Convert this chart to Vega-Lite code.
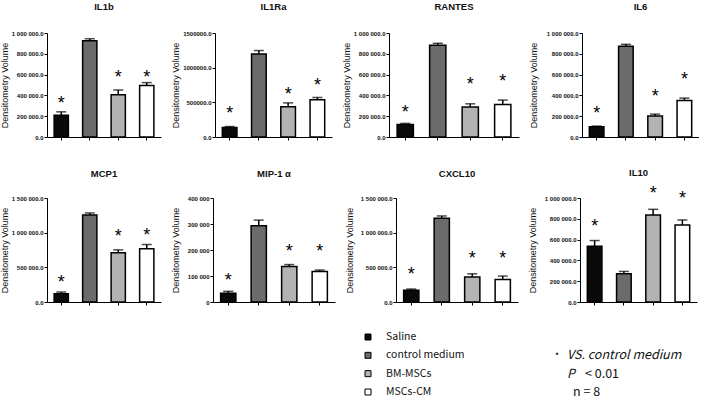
{
  "$schema": "https://vega.github.io/schema/vega-lite/v6.json",
  "padding": {"left": 0, "top": 1, "right": 0, "bottom": 0},
  "background": "white",
  "spacing": 26,
  "datasets": {
    "bars": [
      {"panel": "IL1b", "group": "Saline", "value": 210000, "err": 242000, "star": 365000},
      {"panel": "IL1b", "group": "control medium", "value": 926000, "err": 945000, "star": null},
      {"panel": "IL1b", "group": "BM-MSCs", "value": 406000, "err": 452000, "star": 620000},
      {"panel": "IL1b", "group": "MSCs-CM", "value": 494000, "err": 523000, "star": 620000},
      {"panel": "IL1Ra", "group": "Saline", "value": 136000, "err": 151000, "star": 404000},
      {"panel": "IL1Ra", "group": "control medium", "value": 1198000, "err": 1247000, "star": null},
      {"panel": "IL1Ra", "group": "BM-MSCs", "value": 438000, "err": 492000, "star": 672000},
      {"panel": "IL1Ra", "group": "MSCs-CM", "value": 536000, "err": 570000, "star": 804000},
      {"panel": "RANTES", "group": "Saline", "value": 121000, "err": 131000, "star": 281000},
      {"panel": "RANTES", "group": "control medium", "value": 882000, "err": 901000, "star": null},
      {"panel": "RANTES", "group": "BM-MSCs", "value": 288000, "err": 319000, "star": 546000},
      {"panel": "RANTES", "group": "MSCs-CM", "value": 313000, "err": 355000, "star": 575000},
      {"panel": "IL6", "group": "Saline", "value": 99000, "err": 105000, "star": 265000},
      {"panel": "IL6", "group": "control medium", "value": 872000, "err": 891000, "star": null},
      {"panel": "IL6", "group": "BM-MSCs", "value": 201000, "err": 220000, "star": 434000},
      {"panel": "IL6", "group": "MSCs-CM", "value": 351000, "err": 374000, "star": 594000},
      {"panel": "MCP1", "group": "Saline", "value": 120000, "err": 144000, "star": 350000},
      {"panel": "MCP1", "group": "control medium", "value": 1256000, "err": 1284000, "star": null},
      {"panel": "MCP1", "group": "BM-MSCs", "value": 709000, "err": 752000, "star": 1016000},
      {"panel": "MCP1", "group": "MSCs-CM", "value": 767000, "err": 829000, "star": 1020000},
      {"panel": "MIP-1 α", "group": "Saline", "value": 34000, "err": 41000, "star": 100000},
      {"panel": "MIP-1 α", "group": "control medium", "value": 293000, "err": 315000, "star": null},
      {"panel": "MIP-1 α", "group": "BM-MSCs", "value": 137000, "err": 144000, "star": 210000},
      {"panel": "MIP-1 α", "group": "MSCs-CM", "value": 117000, "err": 123000, "star": 210000},
      {"panel": "CXCL10", "group": "Saline", "value": 168000, "err": 187000, "star": 455000},
      {"panel": "CXCL10", "group": "control medium", "value": 1208000, "err": 1241000, "star": null},
      {"panel": "CXCL10", "group": "BM-MSCs", "value": 359000, "err": 407000, "star": 695000},
      {"panel": "CXCL10", "group": "MSCs-CM", "value": 326000, "err": 374000, "star": 695000},
      {"panel": "IL10", "group": "Saline", "value": 537000, "err": 591000, "star": 767000},
      {"panel": "IL10", "group": "control medium", "value": 272000, "err": 294000, "star": null},
      {"panel": "IL10", "group": "BM-MSCs", "value": 837000, "err": 891000, "star": 1086000},
      {"panel": "IL10", "group": "MSCs-CM", "value": 741000, "err": 789000, "star": 1038000}
    ],
    "legend": [
      {"kind": "legend", "col": "legend", "line": 1, "label": "Saline", "group": "Saline"},
      {"kind": "legend", "col": "legend", "line": 2, "label": "control medium", "group": "control medium"},
      {"kind": "legend", "col": "legend", "line": 3, "label": "BM-MSCs", "group": "BM-MSCs"},
      {"kind": "legend", "col": "legend", "line": 4, "label": "MSCs-CM", "group": "MSCs-CM"},
      {"kind": "bullet", "col": "note", "line": 2, "label": "•"},
      {"kind": "italic", "col": "note", "line": 2, "label": "VS. control medium"},
      {"kind": "italic", "col": "note", "line": 3, "label": "P"},
      {"kind": "pval", "col": "note", "line": 3, "label": "< 0.01"},
      {"kind": "plain", "col": "note", "line": 4, "label": "n = 8"}
    ]
  },
  "vconcat": [
    {
      "spacing": 26,
      "vconcat": [
        {
          "spacing": 10,
          "hconcat": [
            {
              "title": {"text": "IL1b", "offset": 19}, "width": 114, "height": 104,
              "data": {"name": "bars"},
              "transform": [{"filter": {"field": "panel", "equal": "IL1b"}}],
              "encoding": {"x": {"field": "group", "type": "nominal", "sort": ["Saline", "control medium", "BM-MSCs", "MSCs-CM"], "scale": {"paddingInner": 0.5, "paddingOuter": 0.25}, "axis": {"title": null, "labels": false, "tickSize": 3, "minExtent": 0, "maxExtent": 3}}},
              "layer": [
                {"mark": {"type": "bar", "stroke": "black", "strokeWidth": 1.5},
                 "encoding": {"y": {"field": "value", "type": "quantitative", "title": "Densitometry Volume", "scale": {"domain": [0, 1000000], "nice": false}, "axis": {"values": [0, 200000, 400000, 600000, 800000, 1000000], "tickCount": 20, "format": ",.1f", "labelOverlap": false, "minExtent": 36, "maxExtent": 36}},
                              "color": {"field": "group", "type": "nominal", "scale": {"domain": ["Saline", "control medium", "BM-MSCs", "MSCs-CM"], "range": ["#0a0a0a", "#6b6b6b", "#b3b3b3", "#ffffff"]}, "legend": null}}},
                {"mark": {"type": "rule", "strokeWidth": 1.5, "color": "black"}, "encoding": {"y": {"field": "value", "type": "quantitative", "title": "Densitometry Volume"}, "y2": {"field": "err"}}},
                {"mark": {"type": "tick", "thickness": 1.5, "size": 10, "color": "black"}, "encoding": {"y": {"field": "err", "type": "quantitative", "title": "Densitometry Volume"}}},
                {"transform": [{"filter": "datum.star != null"}], "mark": {"type": "text", "text": "*", "font": "Liberation Sans", "fontSize": 18, "baseline": "alphabetic", "dy": 10, "color": "black"}, "encoding": {"y": {"field": "star", "type": "quantitative", "title": "Densitometry Volume"}}}
              ]
            },
            {
              "title": {"text": "IL1Ra", "offset": 19}, "width": 117, "height": 104,
              "data": {"name": "bars"},
              "transform": [{"filter": {"field": "panel", "equal": "IL1Ra"}}],
              "encoding": {"x": {"field": "group", "type": "nominal", "sort": ["Saline", "control medium", "BM-MSCs", "MSCs-CM"], "scale": {"paddingInner": 0.5, "paddingOuter": 0.25}, "axis": {"title": null, "labels": false, "tickSize": 3, "minExtent": 0, "maxExtent": 3}}},
              "layer": [
                {"mark": {"type": "bar", "stroke": "black", "strokeWidth": 1.5},
                 "encoding": {"y": {"field": "value", "type": "quantitative", "title": "Densitometry Volume", "scale": {"domain": [0, 1500000], "nice": false}, "axis": {"values": [0, 500000, 1000000, 1500000], "tickCount": 20, "format": ".1f", "labelOverlap": false, "minExtent": 33, "maxExtent": 33}},
                              "color": {"field": "group", "type": "nominal", "scale": {"domain": ["Saline", "control medium", "BM-MSCs", "MSCs-CM"], "range": ["#0a0a0a", "#6b6b6b", "#b3b3b3", "#ffffff"]}, "legend": null}}},
                {"mark": {"type": "rule", "strokeWidth": 1.5, "color": "black"}, "encoding": {"y": {"field": "value", "type": "quantitative", "title": "Densitometry Volume"}, "y2": {"field": "err"}}},
                {"mark": {"type": "tick", "thickness": 1.5, "size": 10, "color": "black"}, "encoding": {"y": {"field": "err", "type": "quantitative", "title": "Densitometry Volume"}}},
                {"transform": [{"filter": "datum.star != null"}], "mark": {"type": "text", "text": "*", "font": "Liberation Sans", "fontSize": 18, "baseline": "alphabetic", "dy": 10, "color": "black"}, "encoding": {"y": {"field": "star", "type": "quantitative", "title": "Densitometry Volume"}}}
              ]
            },
            {
              "title": {"text": "RANTES", "offset": 19}, "width": 130, "height": 104,
              "data": {"name": "bars"},
              "transform": [{"filter": {"field": "panel", "equal": "RANTES"}}],
              "encoding": {"x": {"field": "group", "type": "nominal", "sort": ["Saline", "control medium", "BM-MSCs", "MSCs-CM"], "scale": {"paddingInner": 0.5, "paddingOuter": 0.25}, "axis": {"title": null, "labels": false, "tickSize": 3, "minExtent": 0, "maxExtent": 3}}},
              "layer": [
                {"mark": {"type": "bar", "stroke": "black", "strokeWidth": 1.5},
                 "encoding": {"y": {"field": "value", "type": "quantitative", "title": "Densitometry Volume", "scale": {"domain": [0, 1000000], "nice": false}, "axis": {"values": [0, 200000, 400000, 600000, 800000, 1000000], "tickCount": 20, "format": ",.1f", "labelOverlap": false, "minExtent": 36, "maxExtent": 36}},
                              "color": {"field": "group", "type": "nominal", "scale": {"domain": ["Saline", "control medium", "BM-MSCs", "MSCs-CM"], "range": ["#0a0a0a", "#6b6b6b", "#b3b3b3", "#ffffff"]}, "legend": null}}},
                {"mark": {"type": "rule", "strokeWidth": 1.5, "color": "black"}, "encoding": {"y": {"field": "value", "type": "quantitative", "title": "Densitometry Volume"}, "y2": {"field": "err"}}},
                {"mark": {"type": "tick", "thickness": 1.5, "size": 10, "color": "black"}, "encoding": {"y": {"field": "err", "type": "quantitative", "title": "Densitometry Volume"}}},
                {"transform": [{"filter": "datum.star != null"}], "mark": {"type": "text", "text": "*", "font": "Liberation Sans", "fontSize": 18, "baseline": "alphabetic", "dy": 10, "color": "black"}, "encoding": {"y": {"field": "star", "type": "quantitative", "title": "Densitometry Volume"}}}
              ]
            },
            {
              "title": {"text": "IL6", "offset": 19}, "width": 117, "height": 104,
              "data": {"name": "bars"},
              "transform": [{"filter": {"field": "panel", "equal": "IL6"}}],
              "encoding": {"x": {"field": "group", "type": "nominal", "sort": ["Saline", "control medium", "BM-MSCs", "MSCs-CM"], "scale": {"paddingInner": 0.5, "paddingOuter": 0.25}, "axis": {"title": null, "labels": false, "tickSize": 3, "minExtent": 0, "maxExtent": 3}}},
              "layer": [
                {"mark": {"type": "bar", "stroke": "black", "strokeWidth": 1.5},
                 "encoding": {"y": {"field": "value", "type": "quantitative", "title": "Densitometry Volume", "scale": {"domain": [0, 1000000], "nice": false}, "axis": {"values": [0, 200000, 400000, 600000, 800000, 1000000], "tickCount": 20, "format": ",.1f", "labelOverlap": false, "minExtent": 42, "maxExtent": 42}},
                              "color": {"field": "group", "type": "nominal", "scale": {"domain": ["Saline", "control medium", "BM-MSCs", "MSCs-CM"], "range": ["#0a0a0a", "#6b6b6b", "#b3b3b3", "#ffffff"]}, "legend": null}}},
                {"mark": {"type": "rule", "strokeWidth": 1.5, "color": "black"}, "encoding": {"y": {"field": "value", "type": "quantitative", "title": "Densitometry Volume"}, "y2": {"field": "err"}}},
                {"mark": {"type": "tick", "thickness": 1.5, "size": 10, "color": "black"}, "encoding": {"y": {"field": "err", "type": "quantitative", "title": "Densitometry Volume"}}},
                {"transform": [{"filter": "datum.star != null"}], "mark": {"type": "text", "text": "*", "font": "Liberation Sans", "fontSize": 18, "baseline": "alphabetic", "dy": 10, "color": "black"}, "encoding": {"y": {"field": "star", "type": "quantitative", "title": "Densitometry Volume"}}}
              ]
            }
          ]
        },
        {
          "spacing": 10,
          "hconcat": [
            {
              "title": {"text": "MCP1", "offset": 17}, "width": 114, "height": 104,
              "data": {"name": "bars"},
              "transform": [{"filter": {"field": "panel", "equal": "MCP1"}}],
              "encoding": {"x": {"field": "group", "type": "nominal", "sort": ["Saline", "control medium", "BM-MSCs", "MSCs-CM"], "scale": {"paddingInner": 0.5, "paddingOuter": 0.25}, "axis": {"title": null, "labels": false, "tickSize": 3, "minExtent": 0, "maxExtent": 3}}},
              "layer": [
                {"mark": {"type": "bar", "stroke": "black", "strokeWidth": 1.5},
                 "encoding": {"y": {"field": "value", "type": "quantitative", "title": "Densitometry Volume", "scale": {"domain": [0, 1500000], "nice": false}, "axis": {"values": [0, 500000, 1000000, 1500000], "tickCount": 20, "format": ",.1f", "labelOverlap": false, "minExtent": 36, "maxExtent": 36}},
                              "color": {"field": "group", "type": "nominal", "scale": {"domain": ["Saline", "control medium", "BM-MSCs", "MSCs-CM"], "range": ["#0a0a0a", "#6b6b6b", "#b3b3b3", "#ffffff"]}, "legend": null}}},
                {"mark": {"type": "rule", "strokeWidth": 1.5, "color": "black"}, "encoding": {"y": {"field": "value", "type": "quantitative", "title": "Densitometry Volume"}, "y2": {"field": "err"}}},
                {"mark": {"type": "tick", "thickness": 1.5, "size": 10, "color": "black"}, "encoding": {"y": {"field": "err", "type": "quantitative", "title": "Densitometry Volume"}}},
                {"transform": [{"filter": "datum.star != null"}], "mark": {"type": "text", "text": "*", "font": "Liberation Sans", "fontSize": 18, "baseline": "alphabetic", "dy": 10, "color": "black"}, "encoding": {"y": {"field": "star", "type": "quantitative", "title": "Densitometry Volume"}}}
              ]
            },
            {
              "title": {"text": "MIP-1 α", "offset": 17}, "width": 122, "height": 104,
              "data": {"name": "bars"},
              "transform": [{"filter": {"field": "panel", "equal": "MIP-1 α"}}],
              "encoding": {"x": {"field": "group", "type": "nominal", "sort": ["Saline", "control medium", "BM-MSCs", "MSCs-CM"], "scale": {"paddingInner": 0.5, "paddingOuter": 0.25}, "axis": {"title": null, "labels": false, "tickSize": 3, "minExtent": 0, "maxExtent": 3}}},
              "layer": [
                {"mark": {"type": "bar", "stroke": "black", "strokeWidth": 1.5},
                 "encoding": {"y": {"field": "value", "type": "quantitative", "title": "Densitometry Volume", "scale": {"domain": [0, 400000], "nice": false}, "axis": {"values": [0, 100000, 200000, 300000, 400000], "tickCount": 20, "format": ",.0f", "labelOverlap": false, "minExtent": 31, "maxExtent": 31}},
                              "color": {"field": "group", "type": "nominal", "scale": {"domain": ["Saline", "control medium", "BM-MSCs", "MSCs-CM"], "range": ["#0a0a0a", "#6b6b6b", "#b3b3b3", "#ffffff"]}, "legend": null}}},
                {"mark": {"type": "rule", "strokeWidth": 1.5, "color": "black"}, "encoding": {"y": {"field": "value", "type": "quantitative", "title": "Densitometry Volume"}, "y2": {"field": "err"}}},
                {"mark": {"type": "tick", "thickness": 1.5, "size": 10, "color": "black"}, "encoding": {"y": {"field": "err", "type": "quantitative", "title": "Densitometry Volume"}}},
                {"transform": [{"filter": "datum.star != null"}], "mark": {"type": "text", "text": "*", "font": "Liberation Sans", "fontSize": 18, "baseline": "alphabetic", "dy": 10, "color": "black"}, "encoding": {"y": {"field": "star", "type": "quantitative", "title": "Densitometry Volume"}}}
              ]
            },
            {
              "title": {"text": "CXCL10", "offset": 17}, "width": 122, "height": 104,
              "data": {"name": "bars"},
              "transform": [{"filter": {"field": "panel", "equal": "CXCL10"}}],
              "encoding": {"x": {"field": "group", "type": "nominal", "sort": ["Saline", "control medium", "BM-MSCs", "MSCs-CM"], "scale": {"paddingInner": 0.5, "paddingOuter": 0.25}, "axis": {"title": null, "labels": false, "tickSize": 3, "minExtent": 0, "maxExtent": 3}}},
              "layer": [
                {"mark": {"type": "bar", "stroke": "black", "strokeWidth": 1.5},
                 "encoding": {"y": {"field": "value", "type": "quantitative", "title": "Densitometry Volume", "scale": {"domain": [0, 1500000], "nice": false}, "axis": {"values": [0, 500000, 1000000, 1500000], "tickCount": 20, "format": ",.1f", "labelOverlap": false, "minExtent": 40, "maxExtent": 40}},
                              "color": {"field": "group", "type": "nominal", "scale": {"domain": ["Saline", "control medium", "BM-MSCs", "MSCs-CM"], "range": ["#0a0a0a", "#6b6b6b", "#b3b3b3", "#ffffff"]}, "legend": null}}},
                {"mark": {"type": "rule", "strokeWidth": 1.5, "color": "black"}, "encoding": {"y": {"field": "value", "type": "quantitative", "title": "Densitometry Volume"}, "y2": {"field": "err"}}},
                {"mark": {"type": "tick", "thickness": 1.5, "size": 10, "color": "black"}, "encoding": {"y": {"field": "err", "type": "quantitative", "title": "Densitometry Volume"}}},
                {"transform": [{"filter": "datum.star != null"}], "mark": {"type": "text", "text": "*", "font": "Liberation Sans", "fontSize": 18, "baseline": "alphabetic", "dy": 10, "color": "black"}, "encoding": {"y": {"field": "star", "type": "quantitative", "title": "Densitometry Volume"}}}
              ]
            },
            {
              "title": {"text": "IL10", "offset": 8}, "width": 117, "height": 104,
              "data": {"name": "bars"},
              "transform": [{"filter": {"field": "panel", "equal": "IL10"}}],
              "encoding": {"x": {"field": "group", "type": "nominal", "sort": ["Saline", "control medium", "BM-MSCs", "MSCs-CM"], "scale": {"paddingInner": 0.5, "paddingOuter": 0.25}, "axis": {"title": null, "labels": false, "tickSize": 3, "minExtent": 0, "maxExtent": 3}}},
              "layer": [
                {"mark": {"type": "bar", "stroke": "black", "strokeWidth": 1.5},
                 "encoding": {"y": {"field": "value", "type": "quantitative", "title": "Densitometry Volume", "scale": {"domain": [0, 1000000], "nice": false}, "axis": {"values": [0, 200000, 400000, 600000, 800000, 1000000], "tickCount": 20, "format": ",.1f", "labelOverlap": false, "minExtent": 41, "maxExtent": 41}},
                              "color": {"field": "group", "type": "nominal", "scale": {"domain": ["Saline", "control medium", "BM-MSCs", "MSCs-CM"], "range": ["#0a0a0a", "#6b6b6b", "#b3b3b3", "#ffffff"]}, "legend": null}}},
                {"mark": {"type": "rule", "strokeWidth": 1.5, "color": "black"}, "encoding": {"y": {"field": "value", "type": "quantitative", "title": "Densitometry Volume"}, "y2": {"field": "err"}}},
                {"mark": {"type": "tick", "thickness": 1.5, "size": 10, "color": "black"}, "encoding": {"y": {"field": "err", "type": "quantitative", "title": "Densitometry Volume"}}},
                {"transform": [{"filter": "datum.star != null"}], "mark": {"type": "text", "text": "*", "font": "Liberation Sans", "fontSize": 18, "baseline": "alphabetic", "dy": 10, "color": "black"}, "encoding": {"y": {"field": "star", "type": "quantitative", "title": "Densitometry Volume"}}}
              ]
            }
          ]
        }
      ]
    },
    {
      "width": 650, "height": 55,
      "data": {"name": "legend"},
      "encoding": {
        "x": {"field": "col", "type": "nominal", "scale": {"type": "point", "domain": ["legend", "note"], "range": [321, 509], "padding": 0}, "axis": null},
        "y": {"field": "line", "type": "ordinal", "scale": {"type": "point", "padding": 0}, "axis": null}
      },
      "layer": [
        {"transform": [{"filter": "datum.kind === 'legend'"}],
         "mark": {"type": "point", "shape": "square", "filled": true, "size": 36, "stroke": "black", "strokeWidth": 1, "opacity": 1},
         "encoding": {"color": {"field": "group", "type": "nominal", "scale": {"domain": ["Saline", "control medium", "BM-MSCs", "MSCs-CM"], "range": ["#0a0a0a", "#6b6b6b", "#b3b3b3", "#ffffff"]}, "legend": null}}},
        {"transform": [{"filter": "datum.kind === 'legend'"}],
         "mark": {"type": "text", "align": "left", "baseline": "middle", "dx": 18, "font": "Noto Sans CJK SC", "fontSize": 10.5, "color": "#111"},
         "encoding": {"text": {"field": "label"}}},
        {"transform": [{"filter": "datum.kind === 'bullet'"}],
         "mark": {"type": "text", "align": "center", "baseline": "middle", "dx": 1, "font": "Noto Sans CJK SC", "fontSize": 11, "color": "#111"},
         "encoding": {"text": {"field": "label"}}},
        {"transform": [{"filter": "datum.kind === 'italic'"}],
         "mark": {"type": "text", "align": "left", "baseline": "middle", "dx": 11, "font": "Noto Sans CJK SC", "fontSize": 12.5, "fontStyle": "italic", "color": "#111"},
         "encoding": {"text": {"field": "label"}}},
        {"transform": [{"filter": "datum.kind === 'pval'"}],
         "mark": {"type": "text", "align": "left", "baseline": "middle", "dx": 29, "font": "Noto Sans CJK SC", "fontSize": 12.5, "color": "#111"},
         "encoding": {"text": {"field": "label"}}},
        {"transform": [{"filter": "datum.kind === 'plain'"}],
         "mark": {"type": "text", "align": "left", "baseline": "middle", "dx": 17, "font": "Noto Sans CJK SC", "fontSize": 12.5, "color": "#111"},
         "encoding": {"text": {"field": "label"}}}
      ]
    }
  ],
  "config": {
    "view": {"stroke": null},
    "locale": {"number": {"decimal": ".", "thousands": " ", "grouping": [3], "currency": ["", ""]}},
    "axis": {
      "grid": false,
      "domainColor": "black", "domainWidth": 1,
      "tickColor": "black", "tickWidth": 1, "tickSize": 3,
      "labelFont": "Liberation Sans", "labelFontSize": 6, "labelFontWeight": "bold", "labelColor": "#111", "labelPadding": 1,
      "labelOverlap": false, "labelFlush": false,
      "titleFont": "Liberation Sans", "titleFontSize": 9, "titleFontWeight": "normal", "titleColor": "#111", "titlePadding": 2
    },
    "title": {"font": "Liberation Sans", "fontSize": 9.5, "fontWeight": "bold", "color": "#111", "offset": 17}
  }
}
